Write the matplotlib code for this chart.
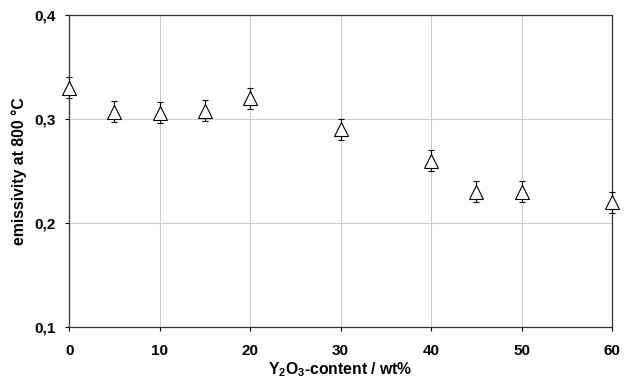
import numpy as np
import matplotlib
matplotlib.use('Agg')
import matplotlib.pyplot as plt

plt.rcParams['font.family'] = ['Liberation Sans', 'DejaVu Sans']
plt.rcParams['mathtext.fontset'] = 'custom'
plt.rcParams['mathtext.rm'] = 'Liberation Sans:bold'
plt.rcParams['mathtext.bf'] = 'Liberation Sans:bold'

# Y2O3 content (wt%) vs emissivity at 800 C
content = [0, 5, 10, 15, 20, 30, 40, 45, 50, 60]
emissivity = [0.33, 0.307, 0.306, 0.308, 0.32, 0.29, 0.26, 0.23, 0.23, 0.22]
error = [0.01, 0.01, 0.01, 0.01, 0.01, 0.01, 0.01, 0.01, 0.01, 0.01]

xticks = [0, 10, 20, 30, 40, 50, 60]
yticks = [0.1, 0.2, 0.3, 0.4]
ylabels = ['0,1', '0,2', '0,3', '0,4']

fig = plt.figure(figsize=(6.29, 3.8), dpi=100)
ax = fig.add_axes([0.110, 0.139, 0.863, 0.822])

eb = ax.errorbar(content, emissivity, yerr=error, fmt='^', color='black',
                 mfc='white', mec='black', ms=9.5, mew=0.8,
                 elinewidth=0.8, capsize=2.5, capthick=0.8, zorder=3)
for art in eb.lines[0:1] + tuple(eb.lines[1]) + tuple(eb.lines[2]):
    art.set_clip_on(False)

ax.set_xlim(0, 60)
ax.set_ylim(0.1, 0.4)
ax.set_xticks(xticks)
ax.set_yticks(yticks)
ax.set_yticklabels(ylabels)
ax.grid(color='#cccccc', linewidth=0.8)
ax.set_axisbelow(True)

for s in ax.spines.values():
    s.set_color('#333333')
    s.set_linewidth(0.9)

ax.tick_params(direction='out', length=3, width=0.8, labelsize=11)
ax.tick_params(axis='x', pad=9)
ax.tick_params(axis='y', pad=7)
for lab in ax.get_xticklabels() + ax.get_yticklabels():
    lab.set_fontweight('bold')

ax.set_xlabel('Y$_2$O$_3$-content / wt%', fontsize=11.3, fontweight='bold', labelpad=2)
ax.set_ylabel('emissivity at 800 °C', fontsize=11.3, fontweight='bold', labelpad=5)

fig.savefig('out.png', dpi=100)
